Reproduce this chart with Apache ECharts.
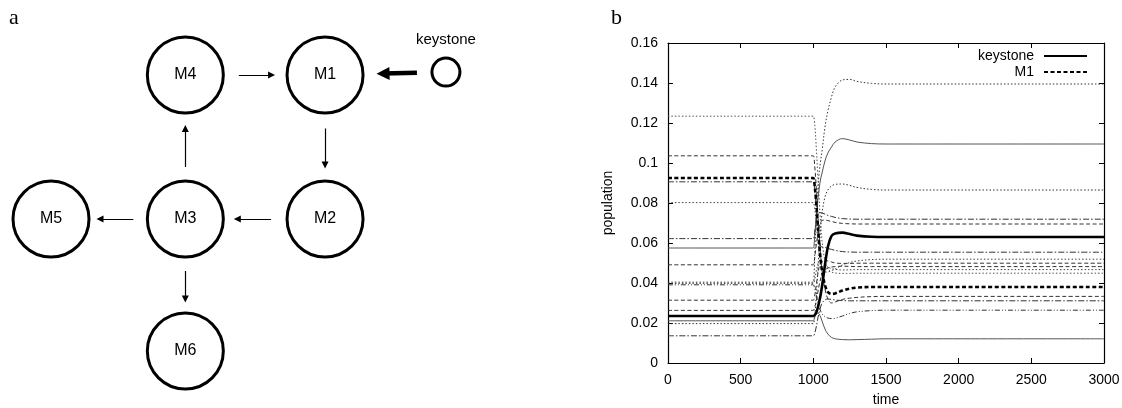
<!DOCTYPE html>
<html>
<head>
<meta charset="utf-8">
<script src="https://cdn.jsdelivr.net/npm/echarts@6/dist/echarts.min.js"></script>
<style>
  html, body { margin: 0; padding: 0; background: #fff; }
  #chart { width: 1122px; height: 408px; }
</style>
</head>
<body>
<div id="chart"></div>
<script>
// ---- panel a: interaction network ----
var nodeNames = ['M1', 'M2', 'M3', 'M4', 'M5', 'M6', 'keystone'];
var nodeCol   = [2.04, 2.04, 1, 1, 0, 1, 2.94];
var nodeRow   = [0, 1, 1, 0, 1, 1.917, -0.02];
var edgeFrom  = ['M4', 'M1', 'M2', 'M3', 'M3', 'M3'];
var edgeTo    = ['M1', 'M2', 'M3', 'M4', 'M5', 'M6'];
var keyFrom   = 'keystone';
var keyTo     = 'M1';

// ---- panel b: population time series ----
var xTicks = [0, 500, 1000, 1500, 2000, 2500, 3000];
var xTickLabels = ['0', '500', '1000', '1500', '2000', '2500', '3000'];
var yTicks = [0, 0.02, 0.04, 0.06, 0.08, 0.1, 0.12, 0.14, 0.16];
var yTickLabels = ['0', '0.02', '0.04', '0.06', '0.08', '0.1', '0.12', '0.14', '0.16'];

var time = [0, 990, 1000, 1010, 1020, 1030, 1040, 1050, 1060, 1080, 1100, 1125, 1150, 1200, 1250, 1300, 1400, 1500, 3000];

var keystone = [0.0235, 0.0235, 0.0235, 0.0240, 0.0252, 0.0275, 0.0305, 0.0340, 0.0385, 0.0490, 0.0580, 0.0635, 0.0648, 0.0652, 0.0645, 0.0637, 0.0631, 0.0630, 0.0630];
var m1       = [0.0925, 0.0925, 0.0925, 0.0880, 0.0800, 0.0700, 0.0600, 0.0520, 0.0460, 0.0390, 0.0355, 0.0345, 0.0348, 0.0362, 0.0372, 0.0377, 0.0380, 0.0380, 0.0380];
var sp1  = [0.0404, 0.0404, 0.0404, 0.0550, 0.0730, 0.0860, 0.0950, 0.1010, 0.1060, 0.1180, 0.1260, 0.1330, 0.1380, 0.1415, 0.1418, 0.1408, 0.1398, 0.1395, 0.1395];
var sp2  = [0.0575, 0.0575, 0.0575, 0.0640, 0.0730, 0.0810, 0.0870, 0.0920, 0.0950, 0.1010, 0.1050, 0.1080, 0.1105, 0.1122, 0.1115, 0.1105, 0.1097, 0.1095, 0.1095];
var sp3  = [0.0197, 0.0197, 0.0197, 0.0240, 0.0330, 0.0450, 0.0570, 0.0670, 0.0750, 0.0830, 0.0865, 0.0885, 0.0893, 0.0895, 0.0888, 0.0878, 0.0868, 0.0865, 0.0865];
var sp4  = [0.1234, 0.1234, 0.1234, 0.1190, 0.1080, 0.0950, 0.0820, 0.0700, 0.0610, 0.0510, 0.0470, 0.0455, 0.0450, 0.0448, 0.0448, 0.0449, 0.0449, 0.0449, 0.0449];
var sp5  = [0.1036, 0.1036, 0.1036, 0.0980, 0.0880, 0.0760, 0.0640, 0.0540, 0.0460, 0.0370, 0.0320, 0.0300, 0.0305, 0.0318, 0.0324, 0.0328, 0.0332, 0.0333, 0.0333];
var sp6  = [0.0906, 0.0906, 0.0906, 0.0860, 0.0780, 0.0690, 0.0620, 0.0585, 0.0580, 0.0578, 0.0573, 0.0568, 0.0563, 0.0557, 0.0555, 0.0554, 0.0554, 0.0554, 0.0554];
var sp7  = [0.0802, 0.0802, 0.0802, 0.0770, 0.0700, 0.0620, 0.0550, 0.0500, 0.0470, 0.0455, 0.0455, 0.0462, 0.0470, 0.0490, 0.0502, 0.0510, 0.0517, 0.0519, 0.0519];
var sp8  = [0.0622, 0.0622, 0.0622, 0.0660, 0.0710, 0.0740, 0.0752, 0.0752, 0.0750, 0.0745, 0.0738, 0.0733, 0.0728, 0.0722, 0.0720, 0.0719, 0.0719, 0.0719, 0.0719];
var sp9  = [0.0491, 0.0491, 0.0491, 0.0530, 0.0590, 0.0640, 0.0680, 0.0700, 0.0712, 0.0715, 0.0712, 0.0708, 0.0703, 0.0698, 0.0696, 0.0695, 0.0695, 0.0695, 0.0695];
var sp10 = [0.0391, 0.0391, 0.0391, 0.0370, 0.0340, 0.0310, 0.0280, 0.0260, 0.0245, 0.0232, 0.0225, 0.0222, 0.0224, 0.0235, 0.0248, 0.0256, 0.0262, 0.0264, 0.0264];
var sp11 = [0.0398, 0.0398, 0.0398, 0.0420, 0.0460, 0.0490, 0.0510, 0.0515, 0.0510, 0.0495, 0.0480, 0.0472, 0.0468, 0.0465, 0.0466, 0.0467, 0.0467, 0.0467, 0.0467];
var sp12 = [0.0314, 0.0314, 0.0314, 0.0340, 0.0390, 0.0440, 0.0480, 0.0500, 0.0510, 0.0515, 0.0510, 0.0505, 0.0500, 0.0498, 0.0498, 0.0499, 0.0499, 0.0499, 0.0499];
var sp13 = [0.0263, 0.0263, 0.0263, 0.0280, 0.0310, 0.0350, 0.0390, 0.0420, 0.0440, 0.0465, 0.0475, 0.0480, 0.0482, 0.0484, 0.0483, 0.0482, 0.0482, 0.0482, 0.0482];
var sp14 = [0.0211, 0.0211, 0.0211, 0.0230, 0.0245, 0.0250, 0.0245, 0.0230, 0.0210, 0.0170, 0.0145, 0.0128, 0.0121, 0.0117, 0.0116, 0.0117, 0.0119, 0.0121, 0.0121];
var sp15 = [0.0136, 0.0136, 0.0136, 0.0150, 0.0180, 0.0220, 0.0255, 0.0280, 0.0300, 0.0315, 0.0320, 0.0318, 0.0315, 0.0312, 0.0311, 0.0311, 0.0311, 0.0311, 0.0311];

// thin background series: [name, values, dash pattern, colour]
var DOT = [1.5, 2], DASH = [4, 2.5], DASHDOT = [6, 2, 1.5, 2], DASHDOTDOT = [5, 2, 1, 2, 1, 2];
var thinSeries = [
  ['sp1', sp1, DOT, '#333'],
  ['sp2', sp2, 'solid', '#555'],
  ['sp3', sp3, DOT, '#333'],
  ['sp4', sp4, DOT, '#555'],
  ['sp5', sp5, DASH, '#333'],
  ['sp6', sp6, DASHDOT, '#333'],
  ['sp7', sp7, DOT, '#444'],
  ['sp8', sp8, DASHDOT, '#333'],
  ['sp9', sp9, DASH, '#333'],
  ['sp10', sp10, DASHDOTDOT, '#333'],
  ['sp11', sp11, DOT, '#444'],
  ['sp12', sp12, DASH, '#333'],
  ['sp13', sp13, DASH, '#333'],
  ['sp14', sp14, 'solid', '#555'],
  ['sp15', sp15, DASHDOT, '#333']
];

// gap kept between each circle and the arrows touching it (graph node size)
var arrowClearance = { M1: 107, M2: 108, M3: 104, M4: 107, M5: 98, M6: 104, keystone: 58 };

function pairs(vals) {
  return time.map(function (t, i) { return [t, vals[i]]; });
}

var SANS = 'Liberation Sans, Arial, Helvetica, sans-serif';

var series = [];
thinSeries.forEach(function (s) {
  series.push({
    name: s[0], type: 'line', xAxisIndex: 0, yAxisIndex: 0,
    data: pairs(s[1]), showSymbol: false, symbol: 'none',
    smooth: 0.35, silent: true, z: 2,
    lineStyle: { width: 1, color: s[3], type: s[2] }
  });
});
series.push({
  name: 'M1', type: 'line', xAxisIndex: 0, yAxisIndex: 0,
  data: pairs(m1), symbol: 'none', showSymbol: false, smooth: 0.35, z: 4,
  itemStyle: { color: '#000' },
  lineStyle: { width: 2.6, color: '#000', type: [4, 2.5] }
});
series.push({
  name: 'keystone', type: 'line', xAxisIndex: 0, yAxisIndex: 0,
  data: pairs(keystone), symbol: 'none', showSymbol: false, smooth: 0.35, z: 5,
  itemStyle: { color: '#000' },
  lineStyle: { width: 2.6, color: '#000', type: 'solid' }
});

// network circles
series.push({
  type: 'scatter', xAxisIndex: 2, yAxisIndex: 2, silent: true, z: 3, clip: false,
  data: nodeNames.map(function (n, i) {
    var small = n === 'keystone';
    return {
      name: n, value: [nodeCol[i], nodeRow[i]],
      symbolSize: small ? 28 : 76,
      label: small
        ? { position: 'top', distance: 9, fontSize: 15 }
        : { position: 'inside' }
    };
  }),
  symbol: 'circle',
  itemStyle: { color: '#fff', borderColor: '#000', borderWidth: 3, opacity: 1 },
  label: { show: true, formatter: '{b}', color: '#000', fontFamily: SANS, fontSize: 16 }
});

function graphNodes(names) {
  return names.map(function (n) {
    var i = nodeNames.indexOf(n);
    return { name: n, value: [nodeCol[i], nodeRow[i]], symbolSize: arrowClearance[n] };
  });
}

// thin arrows between modules (nodes invisible; their size sets the gap)
series.push({
  type: 'graph', coordinateSystem: 'cartesian2d', xAxisIndex: 2, yAxisIndex: 2,
  silent: true, z: 2,
  data: graphNodes(['M1', 'M2', 'M3', 'M4', 'M5', 'M6']),
  symbol: 'circle',
  itemStyle: { opacity: 0 },
  label: { show: false },
  edgeSymbol: ['circle', 'triangle'],
  edgeSymbolSize: [0, 7],
  links: edgeFrom.map(function (f, i) { return { source: f, target: edgeTo[i] }; }),
  lineStyle: { color: '#000', opacity: 1, width: 1.2, curveness: 0 }
});

// thick arrow from the keystone species
series.push({
  type: 'graph', coordinateSystem: 'cartesian2d', xAxisIndex: 2, yAxisIndex: 2,
  silent: true, z: 2,
  data: [
    graphNodes([keyFrom])[0],
    { name: keyTo, value: [nodeCol[0], nodeRow[0]], symbolSize: 116 }
  ],
  symbol: 'circle',
  itemStyle: { opacity: 0 },
  label: { show: false },
  edgeSymbol: ['circle', 'triangle'],
  edgeSymbolSize: [0, 13],
  links: [{ source: keyFrom, target: keyTo }],
  lineStyle: { color: '#000', opacity: 1, width: 4.5, curveness: 0 }
});

var tickStyle = { inside: true, length: 5, lineStyle: { color: '#000', width: 1 } };
var axLine = { show: true, onZero: false, lineStyle: { color: '#000', width: 1.2 } };

var option = {
  animation: false,
  backgroundColor: '#fff',
  title: [
    { text: 'a', left: 4, top: 2, textStyle: { fontFamily: 'Liberation Serif, DejaVu Serif, serif', fontWeight: 'normal', fontSize: 22, color: '#000' } },
    { text: 'b', left: 606, top: 2, textStyle: { fontFamily: 'Liberation Serif, DejaVu Serif, serif', fontWeight: 'normal', fontSize: 22, color: '#000' } }
  ],
  legend: {
    data: ['keystone', 'M1'],
    orient: 'vertical', align: 'right',
    right: 29, top: 44,
    itemWidth: 43, itemHeight: 10, itemGap: 2,
    selectedMode: false,
    itemStyle: { opacity: 0, borderWidth: 0 },
    textStyle: { fontFamily: SANS, fontSize: 14, color: '#000', lineHeight: 14, padding: [0, 5, 0, 0] }
  },
  grid: [
    { left: 668, right: 18, top: 43, bottom: 45, outerBoundsMode: 'none', containLabel: false },
    { left: 51, width: 403, top: 75, height: 288, outerBoundsMode: 'none', containLabel: false }
  ],
  xAxis: [
    {
      type: 'value', gridIndex: 0, min: xTicks[0], max: xTicks[xTicks.length - 1], interval: 500,
      name: 'time', nameLocation: 'middle', nameGap: 30,
      nameTextStyle: { fontFamily: SANS, fontSize: 14, color: '#000' },
      axisLine: axLine, axisTick: tickStyle, splitLine: { show: false },
      axisLabel: {
        fontFamily: SANS, fontSize: 14, color: '#000', margin: 10,
        formatter: function (v) {
          var i = xTicks.indexOf(v);
          return i >= 0 ? xTickLabels[i] : '';
        }
      }
    },
    {
      type: 'value', gridIndex: 0, position: 'top', min: xTicks[0], max: xTicks[xTicks.length - 1], interval: 500,
      axisLine: axLine, axisTick: tickStyle, splitLine: { show: false }, axisLabel: { show: false }
    },
    { type: 'value', gridIndex: 1, min: 0, max: 3, show: false }
  ],
  yAxis: [
    {
      type: 'value', gridIndex: 0, min: yTicks[0], max: yTicks[yTicks.length - 1], interval: 0.02,
      name: 'population', nameLocation: 'middle', nameGap: 53,
      nameTextStyle: { fontFamily: SANS, fontSize: 14, color: '#000' },
      axisLine: axLine, axisTick: tickStyle, splitLine: { show: false },
      axisLabel: {
        fontFamily: SANS, fontSize: 14, color: '#000', margin: 10,
        formatter: function (v) {
          var i = yTicks.findIndex(function (t) { return Math.abs(t - v) < 1e-9; });
          return i >= 0 ? yTickLabels[i] : '';
        }
      }
    },
    {
      type: 'value', gridIndex: 0, position: 'right', min: yTicks[0], max: yTicks[yTicks.length - 1], interval: 0.02,
      axisLine: axLine, axisTick: tickStyle, splitLine: { show: false }, axisLabel: { show: false }
    },
    { type: 'value', gridIndex: 1, min: 0, max: 2, inverse: true, show: false }
  ],
  series: series
};

var chart = echarts.init(document.getElementById('chart'), null, { renderer: 'canvas' });
chart.setOption(option);
</script>
</body>
</html>
